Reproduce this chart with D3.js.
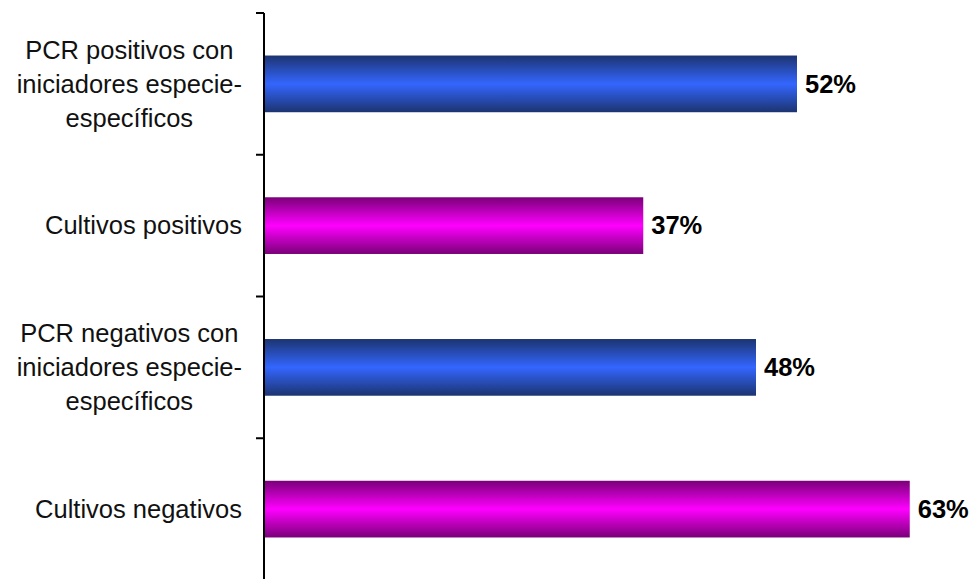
<!DOCTYPE html>
<html lang="es">
<head>
    <meta charset="UTF-8">
    <title>PCR vs cultivos</title>
    <script src="https://d3js.org/d3.v7.min.js"></script>
    <style>
        body { margin: 0; background: white; }
        text { font-family: "Liberation Sans", Arial, sans-serif; }
    </style>
</head>
<body>
<svg width="971" height="579"></svg>

<script>
    // data
    const categories = [
        ["PCR positivos con", "iniciadores especie-", "específicos"],
        ["Cultivos positivos"],
        ["PCR negativos con", "iniciadores especie-", "específicos"],
        ["Cultivos negativos"]
    ];
    const values = [0.52, 0.37, 0.48, 0.63];
    const seriesType = ["pcr", "cult", "pcr", "cult"];

    const svg = d3.select("svg");
    const axisX = 264, plotTop = 13, plotBottom = 580;

    const x = d3.scaleLinear().domain([0, 0.7]).range([axisX, axisX + 717.5]);
    const y = d3.scaleBand().domain(d3.range(categories.length))
        .range([plotTop, plotBottom]).paddingInner(0.6).paddingOuter(0.3);

    // gradients
    const defs = svg.append("defs");
    const grads = {
        pcr: ["#1c3470", "#3366ff"],
        cult: ["#7a0078", "#ff00ff"]
    };
    Object.entries(grads).forEach(([k, [dark, light]]) => {
        const g = defs.append("linearGradient").attr("id", "g-" + k)
            .attr("x1", 0).attr("y1", 0).attr("x2", 0).attr("y2", 1);
        g.append("stop").attr("offset", "0%").attr("stop-color", dark);
        g.append("stop").attr("offset", "50%").attr("stop-color", light);
        g.append("stop").attr("offset", "100%").attr("stop-color", dark);
    });

    // bars
    svg.selectAll("rect.bar")
        .data(values)
        .enter().append("rect")
        .attr("class", "bar")
        .attr("x", x(0) + 1)
        .attr("y", (d, i) => y(i))
        .attr("width", d => x(d) - x(0) - 1)
        .attr("height", y.bandwidth())
        .attr("fill", (d, i) => "url(#g-" + seriesType[i] + ")");

    // value labels
    svg.selectAll("text.val")
        .data(values)
        .enter().append("text")
        .attr("class", "val")
        .attr("x", d => x(d) + 8)
        .attr("y", (d, i) => y(i) + y.bandwidth() / 2)
        .attr("dy", "0.34em")
        .style("font-size", "25.5px")
        .style("font-weight", "bold")
        .text(d => d3.format(".0%")(d));

    // axis line + ticks between categories
    const step = (plotBottom - plotTop) / categories.length;
    svg.append("line")
        .attr("x1", axisX).attr("x2", axisX)
        .attr("y1", plotTop).attr("y2", plotBottom)
        .attr("stroke", "black").attr("stroke-width", 2);
    svg.selectAll("line.tick")
        .data(d3.range(categories.length + 1))
        .enter().append("line")
        .attr("class", "tick")
        .attr("x1", axisX - 8).attr("x2", axisX)
        .attr("y1", i => plotTop + i * step).attr("y2", i => plotTop + i * step)
        .attr("stroke", "black").attr("stroke-width", 2);

    // category labels
    const lineH = 34;
    categories.forEach((lines, i) => {
        const cy = y(i) + y.bandwidth() / 2;
        const g = svg.append("text")
            .style("font-size", "25.5px")
            .attr("fill", "#111")
            .attr("text-anchor", "middle");
        lines.forEach((l, j) => {
            g.append("tspan")
                .attr("x", 0)
                .attr("y", cy + (j - (lines.length - 1) / 2) * lineH)
                .attr("dy", "0.34em")
                .text(l);
        });
        const w = g.node().getBBox().width;
        g.selectAll("tspan").attr("x", 242 - w / 2);
    });
</script>
</body>
</html>
